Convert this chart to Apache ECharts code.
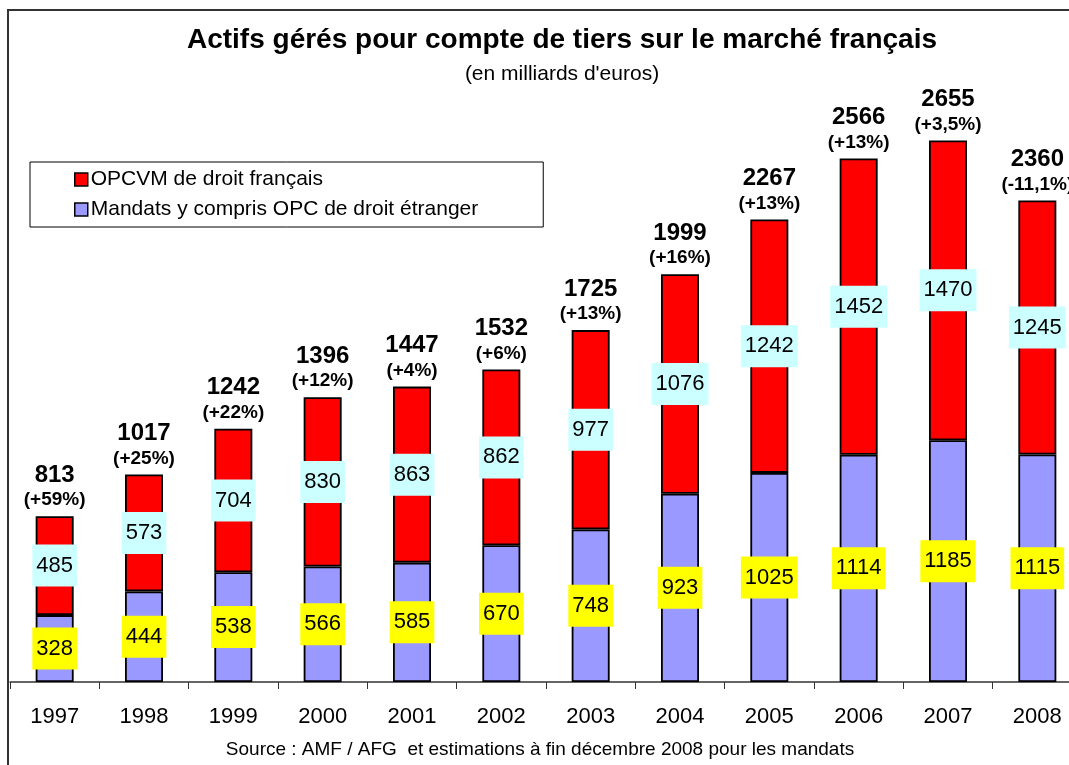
<!DOCTYPE html>
<html>
<head>
<meta charset="utf-8">
<script src="https://cdn.jsdelivr.net/npm/echarts@6/dist/echarts.min.js"></script>
<style>
  html, body { margin: 0; padding: 0; background: #fff; }
  #chart { width: 1069px; height: 765px; }
</style>
</head>
<body>
<div id="chart"></div>
<script>
const years = ["1997", "1998", "1999", "2000", "2001", "2002", "2003", "2004", "2005", "2006", "2007", "2008"];
const mandats = [328, 444, 538, 566, 585, 670, 748, 923, 1025, 1114, 1185, 1115];
const opcvm = [485, 573, 704, 830, 863, 862, 977, 1076, 1242, 1452, 1470, 1245];
const totals = [813, 1017, 1242, 1396, 1447, 1532, 1725, 1999, 2267, 2566, 2655, 2360];
const growth = ["(+59%)", "(+25%)", "(+22%)", "(+12%)", "(+4%)", "(+6%)", "(+13%)", "(+16%)", "(+13%)", "(+13%)", "(+3,5%)", "(-11,1%)"];

const font = "Liberation Sans, Arial, sans-serif";
const chart = echarts.init(document.querySelector("#chart"));

function boxLabel(bg) {
  return {
    show: true,
    position: "inside",
    fontFamily: font,
    fontSize: 22,
    color: "#000",
    backgroundColor: bg,
    lineHeight: 22,
    padding: [10, 4, 10, 4],
  };
}

chart.setOption({
  animation: false,
  backgroundColor: "#fff",
  textStyle: { fontFamily: font },
  graphic: [
    {
      type: "rect",
      shape: { x: 8, y: 10, width: 1200, height: 900 },
      style: { fill: "none", stroke: "#333", lineWidth: 2 },
      silent: true,
    },
    {
      type: "text",
      x: 562,
      y: 40,
      style: {
        text: "Actifs gérés pour compte de tiers sur le marché français",
        font: "bold 28px " + font,
        textAlign: "center",
        textVerticalAlign: "middle",
        fill: "#000",
      },
    },
    {
      type: "text",
      x: 562,
      y: 74,
      style: {
        text: "(en milliards d'euros)",
        font: "21px " + font,
        textAlign: "center",
        textVerticalAlign: "middle",
        fill: "#000",
      },
    },
    {
      type: "text",
      x: 540,
      y: 750,
      style: {
        text: "Source : AMF / AFG  et estimations à fin décembre 2008 pour les mandats",
        font: "19px " + font,
        textAlign: "center",
        textVerticalAlign: "middle",
        fill: "#000",
      },
    },
  ],
  legend: {
    data: ["OPCVM de droit français", "Mandats y compris OPC de droit étranger"],
    orient: "vertical",
    left: 30,
    top: 162,
    icon: "rect",
    itemWidth: 13,
    itemHeight: 13,
    itemGap: 9,
    itemStyle: { borderColor: "#000", borderWidth: 1.5 },
    borderColor: "#000",
    borderWidth: 1,
    padding: [7, 65, 7, 44],
    textStyle: { fontFamily: font, fontSize: 21, color: "#000", padding: [0, 0, 0, -2] },
  },
  grid: {
    left: 10,
    width: 1072,
    top: 70,
    height: 612,
    containLabel: false,
    outerBoundsMode: "none",
  },
  xAxis: {
    type: "category",
    data: years,
    axisLine: { lineStyle: { color: "#333", width: 1.5 } },
    axisTick: { show: true, length: 7, lineStyle: { color: "#333" } },
    axisLabel: { color: "#000", fontSize: 22, fontFamily: font, margin: 24 },
  },
  yAxis: {
    type: "value",
    min: 0,
    max: 3000,
    show: false,
    splitLine: { show: false },
  },
  series: [
    {
      name: "Mandats y compris OPC de droit étranger",
      type: "bar",
      stack: "total",
      barWidth: 38,
      data: mandats,
      itemStyle: { color: "#9999FF", borderColor: "#000", borderWidth: 1.8 },
      label: boxLabel("#FFFF00"),
    },
    {
      name: "OPCVM de droit français",
      type: "bar",
      stack: "total",
      barWidth: 38,
      data: opcvm,
      itemStyle: { color: "#FF0000", borderColor: "#000", borderWidth: 1.8 },
      label: boxLabel("#CCFFFF"),
    },
    {
      name: "totaux",
      type: "scatter",
      symbolSize: 0,
      data: totals,
      z: 5,
      itemStyle: { opacity: 1 },
      label: {
        show: true,
        position: "top",
        distance: 5,
        color: "#000",
        opacity: 1,
        formatter: (p) => `{a|${totals[p.dataIndex]}}\n{b|${growth[p.dataIndex]}}`,
        rich: {
          a: { fontFamily: font, fontWeight: "bold", fontSize: 24, lineHeight: 28, color: "#000" },
          b: { fontFamily: font, fontWeight: "bold", fontSize: 19, lineHeight: 22, color: "#000" },
        },
      },
    },
  ],
});

window.addEventListener("resize", () => chart.resize());
</script>
</body>
</html>
